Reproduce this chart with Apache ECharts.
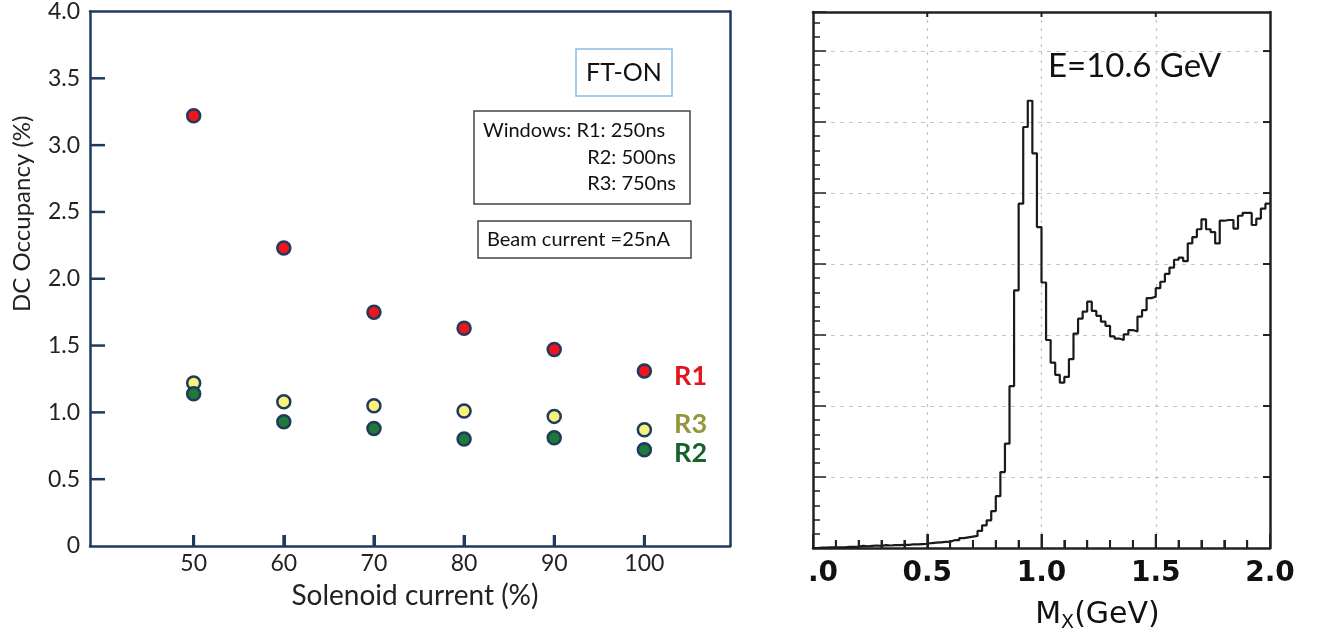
<!DOCTYPE html>
<html>
<head>
<meta charset="utf-8">
<script src="https://cdn.jsdelivr.net/npm/echarts@6/dist/echarts.min.js"></script>
<style>
html,body{margin:0;padding:0;background:#fff;}
#c{width:1340px;height:643px;}
</style>
</head>
<body>
<div id="c"></div>
<script>
// ---- Left panel data ----
var solenoid = [50, 60, 70, 80, 90, 100];
var occR1 = [3.22, 2.23, 1.75, 1.63, 1.47, 1.31];
var occR3 = [1.22, 1.08, 1.05, 1.01, 0.97, 0.87];
var occR2 = [1.14, 0.93, 0.88, 0.80, 0.81, 0.72];
var xTicksL = [50, 60, 70, 80, 90, 100];
var yTicksL = [0.5, 1.0, 1.5, 2.0, 2.5, 3.0, 3.5];
var yTickLabelsL = ['0', '0.5', '1.0', '1.5', '2.0', '2.5', '3.0', '3.5', '4.0'];

// ---- Right panel data (histogram, bins of 0.02 GeV from 0) ----
var binStart = 0;
var binWidth = 0.02;
var counts = [
  0.00, 0.005, 0.005, 0.01, 0.01,
  0.01, 0.01, 0.015, 0.015, 0.02,
  0.03, 0.025, 0.03, 0.035, 0.03,
  0.04, 0.035, 0.04, 0.04, 0.045,
  0.045, 0.05, 0.05, 0.055, 0.06,
  0.07, 0.075, 0.08, 0.085, 0.09,
  0.11, 0.11, 0.14, 0.15, 0.16,
  0.17, 0.24, 0.32, 0.39, 0.52,
  0.73, 1.07, 1.47, 2.28, 3.63,
  4.85, 5.93, 6.30, 5.56, 4.52,
  3.74, 2.93, 2.61, 2.44, 2.33,
  2.41, 2.66, 3.02, 3.23, 3.33,
  3.47, 3.34, 3.27, 3.19, 3.13,
  2.98, 2.95, 2.93, 3.01, 3.07,
  3.05, 3.26, 3.35, 3.52, 3.54,
  3.66, 3.75, 3.86, 3.95, 4.06,
  4.09, 4.04, 4.29, 4.38, 4.49,
  4.63, 4.49, 4.45, 4.29, 4.61,
  4.62, 4.62, 4.50, 4.68, 4.72,
  4.72, 4.55, 4.64, 4.78, 4.85
];
var xTickLabelsR = ['.0', '0.5', '1.0', '1.5', '2.0'];
var xMajorTicksR = [0.5, 1.0, 1.5];
var xMinorTicksR = [0.1, 0.2, 0.3, 0.4, 0.6, 0.7, 0.8, 0.9, 1.1, 1.2, 1.3, 1.4, 1.6, 1.7, 1.8, 1.9];
var yMajorTicksR = [1, 2, 3, 4, 5, 6, 7];

// axis extents
var X_MIN_L = 38.5, X_MAX_L = 109.5, Y_MIN_L = 0, Y_MAX_L = 4;
var X_MIN_R = 0, X_MAX_R = 2, Y_MIN_R = 0, Y_MAX_R = 7.55;

var NAVY = '#1f3a5c';
var DARK = '#222';

function scatterData(vals, name, color, offY) {
  return solenoid.map(function (s, i) {
    var item = { value: [s, vals[i]] };
    if (i === solenoid.length - 1) {
      item.label = {
        show: true, formatter: name, position: 'right', distance: 22,
        offset: [0, offY], color: color, fontSize: 27, fontWeight: 'bold',
        fontFamily: 'Lato'
      };
    }
    return item;
  });
}

// Tick marks placed through the axes' own scales (api.coord), drawn as thin rects
// anchored to the grid edge given by the coordinate system.
function tickSeries(xi, yi, points, dir, len, thick, color) {
  return {
    type: 'custom', xAxisIndex: xi, yAxisIndex: yi, silent: true, clip: false, z: 5,
    data: points,
    renderItem: function (params, api) {
      var cs = params.coordSys;
      var p = api.coord([api.value(0), api.value(1)]);
      var r;
      if (dir === 'up') r = { x: p[0] - thick / 2, y: cs.y + cs.height - len, width: thick, height: len };
      else if (dir === 'down') r = { x: p[0] - thick / 2, y: cs.y, width: thick, height: len };
      else if (dir === 'right') r = { x: cs.x, y: p[1] - thick / 2, width: len, height: thick };
      else r = { x: cs.x + cs.width - len, y: p[1] - thick / 2, width: len, height: thick };
      return { type: 'rect', shape: r, style: { fill: color } };
    }
  };
}

var histData = counts.map(function (c, i) { return [binStart + i * binWidth, c]; });
histData.push([binStart + counts.length * binWidth, counts[counts.length - 1]]);

var NOLABEL = { show: false };
var NOSPLIT = { show: false };

var chart = echarts.init(document.getElementById('c'), null, { renderer: 'canvas' });
chart.setOption({
  animation: false,
  backgroundColor: '#fff',
  grid: [
    { left: 90, top: 11, width: 640, height: 535 },
    { left: 813, top: 12, width: 457, height: 536 }
  ],
  xAxis: [
    { // 0: left panel bottom
      gridIndex: 0, type: 'value', min: X_MIN_L, max: X_MAX_L,
      axisLine: { show: true, onZero: false, lineStyle: { color: NAVY, width: 2.5 } },
      axisTick: { show: true, inside: true, length: 11, customValues: xTicksL, lineStyle: { color: NAVY, width: 3 } },
      axisLabel: { customValues: xTicksL, fontSize: 23, color: DARK, fontFamily: 'Lato', margin: 6 },
      splitLine: NOSPLIT,
      name: 'Solenoid current (%)', nameLocation: 'middle', nameGap: 36,
      nameTextStyle: { fontSize: 28, color: DARK, fontFamily: 'Lato', padding: [0, 0, 0, 10] }
    },
    { // 1: left panel top frame
      gridIndex: 0, type: 'value', position: 'top', min: X_MIN_L, max: X_MAX_L,
      axisLine: { show: true, onZero: false, lineStyle: { color: NAVY, width: 2.5 } },
      axisTick: { show: false }, axisLabel: NOLABEL, splitLine: NOSPLIT
    },
    { // 2: right panel bottom
      gridIndex: 1, type: 'value', min: X_MIN_R, max: X_MAX_R, interval: 0.5,
      axisLine: { show: true, onZero: false, lineStyle: { color: DARK, width: 2.5 } },
      axisTick: { show: true, inside: true, length: 14, lineStyle: { color: DARK, width: 2 } },
      minorTick: { show: true, splitNumber: 5, length: 8, lineStyle: { color: DARK, width: 2 } },
      axisLabel: {
        fontSize: 28, fontWeight: 'bold', color: '#111', fontFamily: 'DejaVu Sans', margin: 12,
        formatter: function (v, i) { return i === 0 ? '{p|' + xTickLabelsR[0] + '}' : xTickLabelsR[i]; },
        rich: { p: { fontSize: 28, fontWeight: 'bold', color: '#111', fontFamily: 'DejaVu Sans', padding: [0, 0, 0, 20] } }
      },
      splitLine: { show: true, lineStyle: { color: '#c4c4c4', type: [3, 5], width: 1.2 } },
      name: 'M{s|X}(GeV)', nameLocation: 'middle', nameGap: 50,
      nameTextStyle: {
        fontSize: 30, color: '#111', fontFamily: 'DejaVu Sans', padding: [0, 0, 0, 112],
        rich: { s: { fontSize: 19, color: '#111', fontFamily: 'DejaVu Sans', verticalAlign: 'bottom', padding: [16, 0, 0, 0] } }
      }
    },
    { // 3: right panel top frame
      gridIndex: 1, type: 'value', position: 'top', min: X_MIN_R, max: X_MAX_R, interval: 0.5,
      axisLine: { show: true, onZero: false, lineStyle: { color: DARK, width: 2.5 } },
      axisTick: { show: false }, axisLabel: NOLABEL, splitLine: NOSPLIT
    }
  ],
  yAxis: [
    { // 0: left panel y
      gridIndex: 0, type: 'value', min: Y_MIN_L, max: Y_MAX_L, interval: 0.5,
      axisLine: { show: true, onZero: false, lineStyle: { color: NAVY, width: 2.5 } },
      axisTick: { show: false },
      axisLabel: {
        fontSize: 23, color: DARK, fontFamily: 'Lato', margin: 10,
        formatter: function (v, i) { return yTickLabelsL[i]; }
      },
      splitLine: NOSPLIT,
      name: 'DC Occupancy (%)', nameLocation: 'middle', nameGap: 56,
      nameTextStyle: { fontSize: 24, color: DARK, fontFamily: 'Lato', padding: [0, 0, 0, 130] }
    },
    { // 1: left panel right frame
      gridIndex: 0, type: 'value', position: 'right', min: Y_MIN_L, max: Y_MAX_L, interval: 0.5,
      axisLine: { show: true, onZero: false, lineStyle: { color: NAVY, width: 2.5 } },
      axisTick: { show: false }, axisLabel: NOLABEL, splitLine: NOSPLIT
    },
    { // 2: right panel y
      gridIndex: 1, type: 'value', min: Y_MIN_R, max: Y_MAX_R, interval: 1,
      axisLine: { show: true, onZero: false, lineStyle: { color: DARK, width: 2.5 } },
      axisTick: { show: true, inside: true, length: 13, lineStyle: { color: DARK, width: 1.5 } },
      minorTick: { show: true, splitNumber: 5, length: 7, lineStyle: { color: DARK, width: 1.5 } },
      axisLabel: NOLABEL,
      splitLine: { show: true, lineStyle: { color: '#c4c4c4', type: [4, 5], width: 1.2 } }
    },
    { // 3: right panel right frame
      gridIndex: 1, type: 'value', position: 'right', min: Y_MIN_R, max: Y_MAX_R, interval: 1,
      axisLine: { show: true, onZero: false, lineStyle: { color: DARK, width: 2.5 } },
      axisTick: { show: false }, axisLabel: NOLABEL, splitLine: NOSPLIT
    }
  ],
  series: [
    {
      name: 'R1', type: 'scatter', xAxisIndex: 0, yAxisIndex: 0, symbolSize: 13, z: 6,
      itemStyle: { color: '#f2141c', borderColor: NAVY, borderWidth: 2.5, opacity: 1 },
      data: scatterData(occR1, 'R1', '#e3141b', 5)
    },
    {
      name: 'R3', type: 'scatter', xAxisIndex: 0, yAxisIndex: 0, symbolSize: 13, z: 6,
      itemStyle: { color: '#f7f27c', borderColor: NAVY, borderWidth: 2.5, opacity: 1 },
      data: scatterData(occR3, 'R3', '#95963c', -5)
    },
    {
      name: 'R2', type: 'scatter', xAxisIndex: 0, yAxisIndex: 0, symbolSize: 13, z: 6,
      itemStyle: { color: '#1f7a3a', borderColor: NAVY, borderWidth: 2.5, opacity: 1 },
      data: scatterData(occR2, 'R2', '#17612a', 4)
    },
    {
      name: 'Mx', type: 'line', xAxisIndex: 2, yAxisIndex: 2, step: 'end',
      showSymbol: false, symbol: 'none', z: 4,
      lineStyle: { color: '#1a1a1a', width: 2.2 },
      data: histData
    },
    // left panel ticks
    tickSeries(0, 0, xTicksL.map(function (v) { return [v, Y_MAX_L]; }), 'up', 11, 3, NAVY),
    tickSeries(0, 0, yTicksL.map(function (v) { return [X_MIN_L, v]; }), 'right', 15, 2.5, NAVY),
    // right panel ticks
    tickSeries(2, 2, xMajorTicksR.map(function (v) { return [v, Y_MAX_R]; }), 'up', 14, 2, DARK),
    tickSeries(2, 2, xMinorTicksR.map(function (v) { return [v, Y_MAX_R]; }), 'up', 8, 2, DARK),
    tickSeries(2, 2, xMajorTicksR.map(function (v) { return [v, Y_MAX_R]; }), 'down', 5, 2, DARK),
    tickSeries(2, 2, yMajorTicksR.map(function (v) { return [X_MAX_R, v]; }), 'left', 7, 2, DARK)
  ],
  graphic: [
    { type: 'rect', shape: { x: 576, y: 49, width: 96, height: 47 },
      style: { fill: '#fff', stroke: '#8dbbe3', lineWidth: 1.5 } },
    { type: 'text', x: 624, y: 73,
      style: { text: 'FT-ON', fill: '#111', font: '25px Lato', textAlign: 'center', textVerticalAlign: 'middle' } },
    { type: 'rect', shape: { x: 474, y: 111, width: 216, height: 93 },
      style: { fill: '#fff', stroke: '#444', lineWidth: 1.5 } },
    { type: 'text', x: 483, y: 131,
      style: { text: 'Windows: R1: 250ns', fill: '#111', font: '20px Lato', textAlign: 'left', textVerticalAlign: 'middle' } },
    { type: 'text', x: 676, y: 158,
      style: { text: 'R2: 500ns', fill: '#111', font: '20px Lato', textAlign: 'right', textVerticalAlign: 'middle' } },
    { type: 'text', x: 676, y: 184,
      style: { text: 'R3: 750ns', fill: '#111', font: '20px Lato', textAlign: 'right', textVerticalAlign: 'middle' } },
    { type: 'rect', shape: { x: 478, y: 221, width: 213, height: 37 },
      style: { fill: '#fff', stroke: '#444', lineWidth: 1.5 } },
    { type: 'text', x: 487, y: 240,
      style: { text: 'Beam current =25nA', fill: '#111', font: '20px Lato', textAlign: 'left', textVerticalAlign: 'middle' } },
    { type: 'text', x: 1048, y: 66,
      style: { text: 'E=10.6 GeV', fill: '#111', font: '33px Lato', textAlign: 'left', textVerticalAlign: 'middle' } }
  ]
});
</script>
</body>
</html>
